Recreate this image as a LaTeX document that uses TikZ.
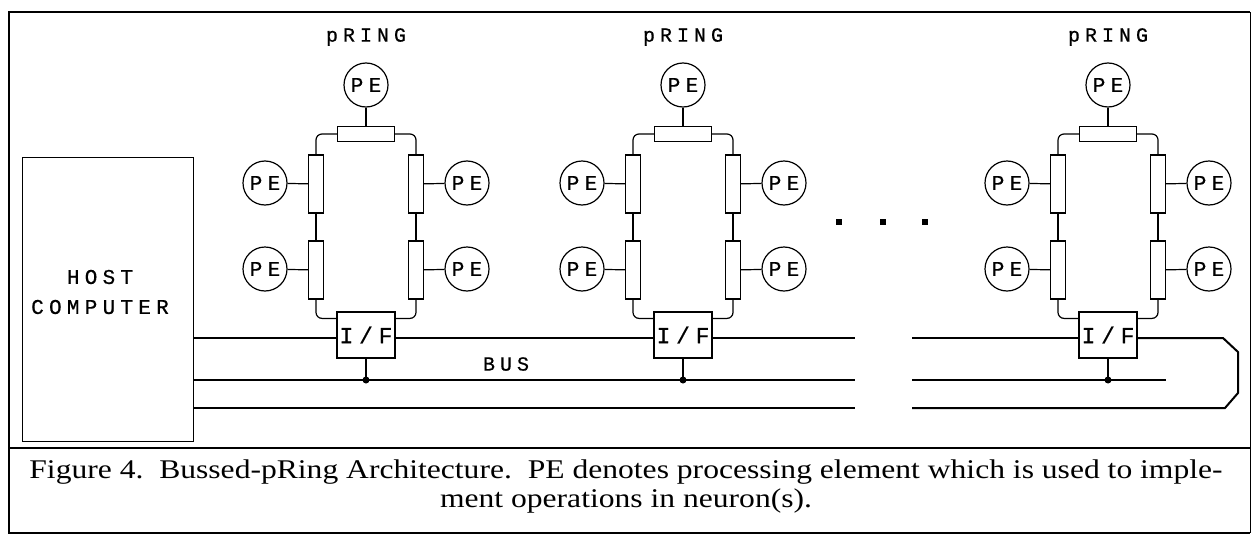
\documentclass[tikz,border=0pt]{standalone}
\usepackage{fontspec}
\setmainfont[FakeStretch=1.17]{Liberation Serif}
\newfontfamily\plotfont[LetterSpace=25,FakeBold=0.6]{Liberation Mono}
\usetikzlibrary{positioning}

\begin{document}
\begin{tikzpicture}[x=1pt,y=-1pt,line width=1.2pt,
  pe/.style={draw,circle,minimum size=44pt,inner sep=0pt,font=\plotfont\fontsize{21}{21}\selectfont},
  vbar/.style={draw,rectangle,minimum width=15pt,minimum height=58pt,inner sep=0pt},
  hbar/.style={draw,rectangle,minimum width=57pt,minimum height=15pt,inner sep=0pt},
  iface/.style={draw,rectangle,minimum width=58pt,minimum height=46pt,inner sep=0pt,font=\plotfont\fontsize{23}{23}\selectfont},
  lbl/.style={font=\plotfont\fontsize{20}{20}\selectfont},
  bus/.style={line width=2pt}]
\useasboundingbox (0,0) rectangle (1252,535);
% frame and caption
\draw[line width=2.5pt] (1250,12) -- (9,12) -- (9,533) -- (1250,533);
\draw[line width=0.8pt] (1250,12) -- (1250,533);
\draw[line width=2.5pt] (9,448) -- (1250,448);
\node[font=\fontsize{27}{29}\selectfont,align=center] (caption) at (626,487)
  {Figure 4.\ \ Bussed-pRing Architecture.\ \ PE denotes processing element which is used to imple-\\ment operations in neuron(s).};
% host
\node[draw,minimum width=171pt,minimum height=284pt,inner sep=0pt,anchor=north west] (host) at (22,157) {};
\node[font=\plotfont\fontsize{21}{30}\selectfont,align=center] (hosttext) at (100,292) {HOST\\COMPUTER};
\coordinate (b1) at (0,338);
\coordinate (b2) at (0,380);
\coordinate (b3) at (0,408);
\coordinate (cutl) at (855,0);
\coordinate (cutr) at (912,0);
\coordinate (busend) at (1166,380);
% the three rings
\foreach \n/\c in {1/366,2/683,3/1108} {
  \node[lbl] (ring\n) at (\c,37) {pRING};
  \node[pe] (pet\n) at (\c,85) {PE};
  \node[hbar] (top\n) at (\c,134) {};
  \node[vbar] (ul\n) at (\c-50,184) {};
  \node[vbar] (ll\n) at (\c-50,270) {};
  \node[vbar] (ur\n) at (\c+50,184) {};
  \node[vbar] (lr\n) at (\c+50,270) {};
  \node[pe] (peul\n) at (\c-101,183) {PE};
  \node[pe] (pell\n) at (\c-101,269) {PE};
  \node[pe] (peur\n) at (\c+101,183) {PE};
  \node[pe] (pelr\n) at (\c+101,269) {PE};
  \node[iface] (if\n) at (\c,335) {I/F};
  \draw (pet\n) -- (top\n);
  \draw (peul\n) -- (ul\n);
  \draw (pell\n) -- (ll\n);
  \draw (peur\n) -- (ur\n);
  \draw (pelr\n) -- (lr\n);
  \draw[rounded corners=6pt] (top\n.west) -| (ul\n.north);
  \draw[rounded corners=6pt] (top\n.east) -| (ur\n.north);
  \draw (ul\n) -- (ll\n);
  \draw (ur\n) -- (lr\n);
  \draw[rounded corners=6pt] (ll\n.south) |- ([yshift=-7pt]if\n.north west);
  \draw[rounded corners=6pt] (lr\n.south) |- ([yshift=-7pt]if\n.north east);
  \draw (if\n) -- (if\n.south |- b2);
  \fill (if\n.south |- b2) circle (3.5pt);
}
% bus lines
\draw[bus] (host.east |- b1) -- (if1.west |- b1);
\draw[bus] (if1.east |- b1) -- (if2.west |- b1);
\draw[bus] (if2.east |- b1) -- (cutl |- b1);
\draw[bus] (cutr |- b1) -- (if3.west |- b1);
\draw[bus] (if3.east |- b1) -- (1223,338) -- (1238,352) -- (1238,393) -- (1225,408) -- (cutr |- b3);
\draw[bus] (host.east |- b2) -- (cutl |- b2);
\draw[bus] (cutr |- b2) -- (busend);
\draw[bus] (host.east |- b3) -- (cutl |- b3);
\node[lbl] (buslbl) at (506,364) {BUS};
% dots between rings
\foreach \x in {839,883,925} {
  \fill (\x-3,219) rectangle (\x+3,225);
}
\end{tikzpicture}
\end{document}
